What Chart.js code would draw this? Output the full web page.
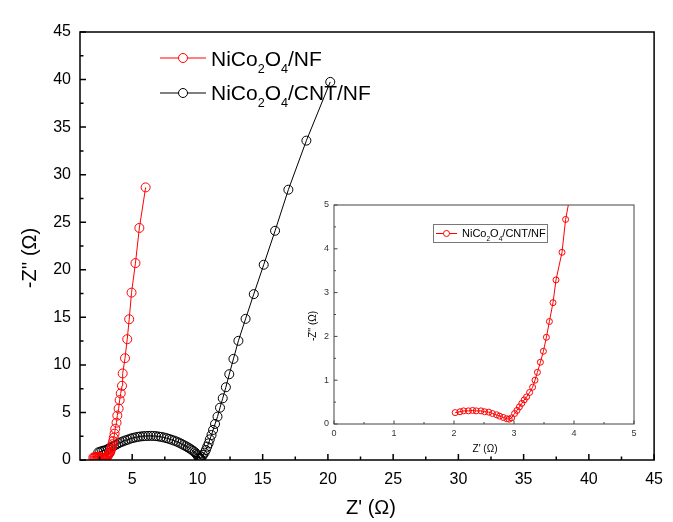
<!DOCTYPE html>
<html>
<head>
<meta charset="utf-8">
<script src="https://cdn.jsdelivr.net/npm/chart.js@4.4.1/dist/chart.umd.min.js"></script>
<style>
  html, body { margin: 0; padding: 0; background: #fff; }
  #wrap { position: relative; width: 673px; height: 522px; }
  #main { position: absolute; left: 0; top: 0; }
  #inset { position: absolute; left: 295px; top: 188px; }
</style>
</head>
<body>
<div id="wrap">
  <canvas id="main" width="673" height="522"></canvas>
  <canvas id="inset" width="360" height="270"></canvas>
</div>
<script>
// NiCo2O4/NF  (red) - also shown zoomed in the inset
const nfX = [2.02, 2.10, 2.16, 2.24, 2.31, 2.37, 2.45, 2.51, 2.58, 2.64, 2.71, 2.76, 2.82, 2.88, 2.92,
  2.96, 3.01, 3.05, 3.09, 3.13, 3.17, 3.21, 3.26, 3.31, 3.35, 3.39, 3.44, 3.49, 3.54, 3.59, 3.65, 3.70,
  3.80, 3.86, 3.96, 4.04, 4.12, 4.22, 4.27, 4.45, 4.62, 4.77, 4.95, 5.25, 5.55, 6.03];
const nfY = [0.26, 0.28, 0.30, 0.30, 0.31, 0.30, 0.30, 0.28, 0.27, 0.24, 0.21, 0.18, 0.15, 0.12, 0.11,
  0.14, 0.24, 0.31, 0.39, 0.47, 0.55, 0.62, 0.72, 0.84, 1.00, 1.18, 1.41, 1.66, 1.98, 2.34, 2.77, 3.29,
  3.92, 4.67, 5.40, 6.30, 7.00, 7.80, 9.10, 10.70, 12.70, 14.80, 17.60, 20.70, 24.40, 28.66];

// NiCo2O4/CNT/NF  (black)
const cntX = [2.40, 2.55, 2.70, 2.85, 3.00, 3.15, 3.30, 3.45, 3.60, 3.78, 3.95, 4.12, 4.30, 4.48, 4.66,
  4.85, 5.04, 5.23, 5.42, 5.62, 5.82, 6.02, 6.22, 6.42, 6.62, 6.82, 7.02, 7.22, 7.42, 7.62, 7.82, 8.02,
  8.21, 8.40, 8.58, 8.76, 8.93, 9.10, 9.26, 9.41, 9.55, 9.68, 9.80, 9.90, 9.98, 10.05, 10.11, 10.16,
  10.21, 10.26, 10.34, 10.43, 10.55, 10.65, 10.75, 10.86, 10.95, 11.08, 11.20, 11.35, 11.54, 11.73,
  11.94, 12.18, 12.44, 12.76, 13.14, 13.69, 14.32, 15.08, 15.95, 16.97, 18.35, 20.18];
const cntY = [0.80, 0.88, 0.95, 1.00, 1.05, 1.17, 1.28, 1.40, 1.50, 1.62, 1.76, 1.86, 1.96, 2.06, 2.14,
  2.24, 2.31, 2.37, 2.43, 2.47, 2.50, 2.52, 2.53, 2.54, 2.53, 2.51, 2.47, 2.43, 2.37, 2.30, 2.22, 2.13,
  2.04, 1.94, 1.83, 1.71, 1.58, 1.46, 1.33, 1.21, 1.08, 0.95, 0.82, 0.66, 0.52, 0.38, 0.26, 0.17,
  0.12, 0.12, 0.35, 0.53, 0.77, 1.05, 1.40, 1.75, 2.17, 2.63, 3.16, 3.79, 4.56, 5.50,
  6.49, 7.65, 9.02, 10.63, 12.53, 14.84, 17.44, 20.53, 24.10, 28.42, 33.58, 39.75];

const mainMajor = [5, 10, 15, 20, 25, 30, 35, 40, 45];
const mainYMajor = [0, 5, 10, 15, 20, 25, 30, 35, 40, 45];
const mainMinor = [2.5, 7.5, 12.5, 17.5, 22.5, 27.5, 32.5, 37.5, 42.5];
const insetMajor = [0, 1, 2, 3, 4, 5];
const insetMinor = [0.5, 1.5, 2.5, 3.5, 4.5];

const mainLabels = ['NiCo2O4/NF', 'NiCo2O4/CNT/NF'];
const insetLabel = 'NiCo2O4/CNT/NF';

const FONT = 'Arial, "Liberation Sans", sans-serif';
const RED = '#ff0000';

function toPoints(xs, ys) {
  return xs.map((x, i) => ({ x, y: ys[i] }));
}

// draws text with every digit lowered as a subscript
function drawSubText(ctx, text, x, y, size, color) {
  ctx.save();
  ctx.fillStyle = color;
  ctx.textBaseline = 'alphabetic';
  ctx.textAlign = 'left';
  let cx = x;
  for (const part of text.split(/(\d)/)) {
    if (!part) continue;
    const sub = /^\d$/.test(part);
    const s = sub ? size * 0.6 : size;
    ctx.font = `${s}px ${FONT}`;
    ctx.fillText(part, cx, sub ? y + size * 0.32 : y);
    cx += ctx.measureText(part).width;
  }
  ctx.restore();
}

function drawMarker(ctx, x1, x2, y, r, color, lw) {
  ctx.save();
  ctx.strokeStyle = color;
  ctx.lineWidth = lw;
  ctx.beginPath();
  ctx.moveTo(x1, y);
  ctx.lineTo(x2, y);
  ctx.stroke();
  ctx.beginPath();
  ctx.fillStyle = '#fff';
  ctx.arc((x1 + x2) / 2, y, r, 0, Math.PI * 2);
  ctx.fill();
  ctx.stroke();
  ctx.restore();
}

// frame + inward ticks + axis titles
function framePlugin(opts) {
  return {
    id: 'frame',
    afterDraw(chart) {
      const { ctx, chartArea: a, scales: { x, y } } = chart;
      ctx.save();
      ctx.strokeStyle = opts.color;
      ctx.lineWidth = opts.lineWidth;
      ctx.strokeRect(a.left, a.top, a.right - a.left, a.bottom - a.top);
      ctx.beginPath();
      opts.xMajor.forEach(v => { const p = x.getPixelForValue(v); ctx.moveTo(p, a.bottom); ctx.lineTo(p, a.bottom - opts.major); });
      opts.xMinor.forEach(v => { const p = x.getPixelForValue(v); ctx.moveTo(p, a.bottom); ctx.lineTo(p, a.bottom - opts.minor); });
      opts.yMajor.forEach(v => { const p = y.getPixelForValue(v); ctx.moveTo(a.left, p); ctx.lineTo(a.left + opts.major, p); });
      opts.yMinor.forEach(v => { const p = y.getPixelForValue(v); ctx.moveTo(a.left, p); ctx.lineTo(a.left + opts.minor, p); });
      ctx.stroke();

      ctx.fillStyle = '#000';
      ctx.font = `${opts.titleSize}px ${FONT}`;
      ctx.textAlign = 'center';
      ctx.textBaseline = 'middle';
      ctx.fillText(opts.xTitle, opts.xTitlePos[0], opts.xTitlePos[1]);
      ctx.translate(opts.yTitlePos[0], opts.yTitlePos[1]);
      ctx.rotate(-Math.PI / 2);
      ctx.fillText(opts.yTitle, 0, 0);
      ctx.restore();
    }
  };
}

const mainLegend = {
  id: 'mainLegend',
  afterDraw(chart) {
    const ctx = chart.ctx;
    drawMarker(ctx, 160, 206, 58, 4.5, RED, 1);
    drawSubText(ctx, mainLabels[0], 211, 66, 21, '#000');
    drawMarker(ctx, 160, 206, 93, 4.5, '#000', 1);
    drawSubText(ctx, mainLabels[1], 211, 100, 21, '#000');
  }
};

const insetLegend = {
  id: 'insetLegend',
  afterDraw(chart) {
    const ctx = chart.ctx;
    ctx.save();
    ctx.strokeStyle = '#777';
    ctx.lineWidth = 1;
    ctx.strokeRect(138.5, 36.5, 114, 18);
    ctx.restore();
    drawMarker(ctx, 141, 162, 45.5, 3, RED, 1);
    drawSubText(ctx, insetLabel, 167, 49, 11, '#000');
  }
};

function fixedTicks(values) {
  return scale => { scale.ticks = values.map(v => ({ value: v })); };
}

new Chart(document.getElementById('main'), {
  type: 'scatter',
  data: {
    datasets: [
      {
        data: toPoints(nfX, nfY), showLine: true,
        borderColor: RED, borderWidth: 1,
        pointBorderColor: RED, pointBackgroundColor: 'rgba(255,255,255,0)',
        pointRadius: 4.5, pointBorderWidth: 1
      },
      {
        data: toPoints(cntX, cntY), showLine: true,
        borderColor: '#000', borderWidth: 1,
        pointBorderColor: '#000', pointBackgroundColor: 'rgba(255,255,255,0)',
        pointRadius: 4.5, pointBorderWidth: 1
      }
    ]
  },
  options: {
    responsive: false,
    animation: false,
    layout: { padding: { left: 0, right: 10, top: 32, bottom: 0 } },
    plugins: { legend: { display: false }, tooltip: { enabled: false } },
    scales: {
      x: {
        type: 'linear', min: 1, max: 45,
        afterBuildTicks: fixedTicks(mainMajor),
        afterFit: s => { s.height = 62; },
        grid: { display: false, drawTicks: false },
        border: { display: false },
        ticks: { padding: 10, color: '#000', maxRotation: 0, font: { family: FONT, size: 16 } }
      },
      y: {
        type: 'linear', min: 0, max: 45,
        afterBuildTicks: fixedTicks(mainYMajor),
        afterFit: s => { s.width = 80; },
        grid: { display: false, drawTicks: false },
        border: { display: false },
        ticks: { padding: 9, color: '#000', font: { family: FONT, size: 16 } }
      }
    }
  },
  plugins: [framePlugin({
    color: '#000', lineWidth: 1.5, major: 6, minor: 3.5,
    xMajor: mainMajor, xMinor: mainMinor, yMajor: mainYMajor, yMinor: mainMinor,
    titleSize: 20, xTitle: "Z' (\u03A9)", xTitlePos: [371, 508],
    yTitle: "-Z'' (\u03A9)", yTitlePos: [30, 258]
  }), mainLegend]
});

new Chart(document.getElementById('inset'), {
  type: 'scatter',
  data: {
    datasets: [{
      data: toPoints(nfX, nfY), showLine: true,
      borderColor: RED, borderWidth: 1,
      pointBorderColor: RED, pointBackgroundColor: 'rgba(255,255,255,0)',
      pointRadius: 3, pointBorderWidth: 1
    }]
  },
  options: {
    responsive: false,
    animation: false,
    layout: { padding: { left: 0, right: 21, top: 17, bottom: 0 } },
    plugins: { legend: { display: false }, tooltip: { enabled: false } },
    scales: {
      x: {
        type: 'linear', min: 0, max: 5,
        afterBuildTicks: fixedTicks(insetMajor),
        afterFit: s => { s.height = 34; },
        grid: { display: false, drawTicks: false },
        border: { display: false },
        ticks: { padding: 4, color: '#333', maxRotation: 0, font: { family: FONT, size: 9 } }
      },
      y: {
        type: 'linear', min: 0, max: 5,
        afterBuildTicks: fixedTicks(insetMajor),
        afterFit: s => { s.width = 39; },
        grid: { display: false, drawTicks: false },
        border: { display: false },
        ticks: { padding: 5, color: '#333', font: { family: FONT, size: 9 } }
      }
    }
  },
  plugins: [framePlugin({
    color: '#444', lineWidth: 1, major: 3.5, minor: 2,
    xMajor: insetMajor, xMinor: insetMinor, yMajor: insetMajor, yMinor: insetMinor,
    titleSize: 10, xTitle: "Z' (\u03A9)", xTitlePos: [190, 261],
    yTitle: "-Z'' (\u03A9)", yTitlePos: [18, 138]
  }), insetLegend]
});
</script>
</body>
</html>
